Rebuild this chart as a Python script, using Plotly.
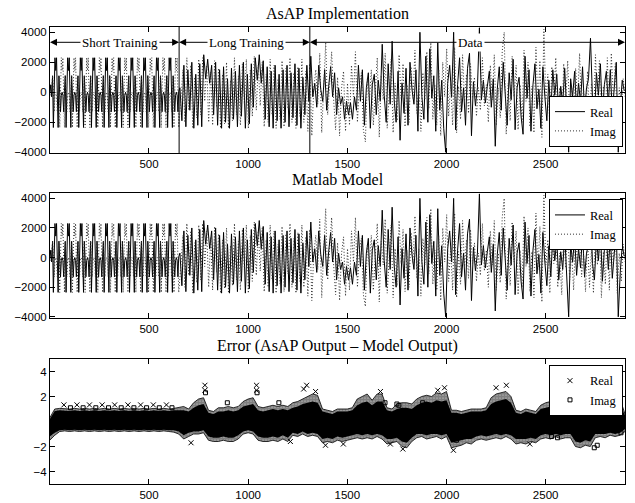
import plotly.graph_objects as go

# ---------------- data ----------------
lead_t = [1, 5, 9]
lead_real = [0, 500, -300]
lead_imag = [0, -200, 300]

# short training section (10 repeated symbols, one value every 4 samples)
short_real = [
    1100, -2350, -200, 2300, 1450, 2300, -200, -2350, 1100, 50, -1300, -200, 0, -200, -1300, 50,
    1100, -2350, -200, 2300, 1450, 2300, -200, -2350, 1100, 50, -1300, -200, 0, -200, -1300, 50,
    1100, -2350, -200, 2300, 1450, 2300, -200, -2350, 1100, 50, -1300, -200, 0, -200, -1300, 50,
    1100, -2350, -200, 2300, 1450, 2300, -200, -2350, 1100, 50, -1300, -200, 0, -200, -1300, 50,
    1100, -2350, -200, 2300, 1450, 2300, -200, -2350, 1100, 50, -1300, -200, 0, -200, -1300, 50,
    1100, -2350, -200, 2300, 1450, 2300, -200, -2350, 1100, 50, -1300, -200, 0, -200, -1300, 50,
    1100, -2350, -200, 2300, 1450, 2300, -200, -2350, 1100, 50, -1300, -200, 0, -200, -1300, 50,
    1100, -2350, -200, 2300, 1450, 2300, -200, -2350, 1100, 50, -1300, -200, 0, -200, -1300, 50,
    1100, -2350, -200, 2300, 1450, 2300, -200, -2350, 1100, 50, -1300, -200, 0, -200, -1300, 50,
    1100, -2350, -200, 2300, 1450, 2300, -200, -2350, 1100, 50, -1300, -200, 0, -200, -1300, 50,
]
short_imag = [
    1100, 50, -1300, -200, 0, -200, -1300, 50, 1100, -2350, -200, 2300, 1450, 2300, -200, -2350,
    1100, 50, -1300, -200, 0, -200, -1300, 50, 1100, -2350, -200, 2300, 1450, 2300, -200, -2350,
    1100, 50, -1300, -200, 0, -200, -1300, 50, 1100, -2350, -200, 2300, 1450, 2300, -200, -2350,
    1100, 50, -1300, -200, 0, -200, -1300, 50, 1100, -2350, -200, 2300, 1450, 2300, -200, -2350,
    1100, 50, -1300, -200, 0, -200, -1300, 50, 1100, -2350, -200, 2300, 1450, 2300, -200, -2350,
    1100, 50, -1300, -200, 0, -200, -1300, 50, 1100, -2350, -200, 2300, 1450, 2300, -200, -2350,
    1100, 50, -1300, -200, 0, -200, -1300, 50, 1100, -2350, -200, 2300, 1450, 2300, -200, -2350,
    1100, 50, -1300, -200, 0, -200, -1300, 50, 1100, -2350, -200, 2300, 1450, 2300, -200, -2350,
    1100, 50, -1300, -200, 0, -200, -1300, 50, 1100, -2350, -200, 2300, 1450, 2300, -200, -2350,
    1100, 50, -1300, -200, 0, -200, -1300, 50, 1100, -2350, -200, 2300, 1450, 2300, -200, -2350,
]

# long training section (one value every 10 samples)
real_long = [
    300, -1900, 1800, -2300, 1500, -1200, 2000, -2400, 1200, -2200,
    1900, -2300, 2500, 900, 2200, 600, 1800, -1500, 2000, -2200,
    1500, -2400, 1700, -2000, 900, -2400, 1600, -1800, 1400, -2300,
    1800, -1600, 2000, -2400, 1200, -2100, 1900, -1000, 2300, 800,
    2500, 600, 2100, -1800, 1700, -2300, 1400, -2400, 1800, -1900,
    1200, -2400, 1500, -2000, 1800, -2300, 1300, -1700, 1900, -2200,
    1600, -2400, 1000, -1500, 1800, -600,
]
imag_long = [
    -500, 1500, -2000, 2300, -1200, 1800, -2400, 1000, -1700, 2200,
    -1500, 2300, -600, 1800, -2000, 1400, -2200, 2100, -1000, 1600,
    -2400, 1200, -2100, 2000, -2400, 800, -1900, 2300, -1500, 1100,
    -2200, 1900, -800, 2200, -2400, 1500, -1600, 2400, -1200, 1800,
    -900, 2000, -2300, 1200, -2000, 2200, -1500, 1800, -2400, 900,
    -1800, 2100, -2300, 1600, -1100, 2300, -2000, 1300, -2400, 1700,
    -1600, 2200, -2000, 1400, -2600, 1900,
]
# data section (one value every 10 samples)
real_data = [
    2400, -300, 600, -1000, 1800, 200, -600, 1500, -1200, 400,
    1700, -300, 1300, -1500, 300, -800, -300, -1800, -600, -1500,
    -700, -1800, -300, -1200, 1800, -600, 1500, -2200, 300, 1300,
    -2400, 500, 1200, -1500, 800, -600, 3200, -200, -2000, 1900,
    -800, 3400, -500, -2000, 1400, -3200, 600, -1400, 1600, -2200,
    2000, 200, -800, 1500, -2600, 4000, -300, -1800, 2400, -2000,
    2900, -400, 1100, -2600, 3300, -1200, 800, -2400, -4000, 600,
    1800, -300, 4000, -2500, 500, 2300, -1300, 300, -2200, 1600,
    2600, -2900, 700, -900, 300, 4300, -500, 800, -700, 400,
    1400, -1000, 900, -3600, 200, 1700, -1200, 2000, -400, -2200,
    1300, -500, 2200, -2500, 300, 1000, -1600, -2800, 2400, -400,
    1500, -2600, 500, 1900, -1100, 200, -2400, 1700, -300, -1900,
    800, -1300, 1500, -200, 1200, -1500, 400, -800, 1600, -1200,
    -4000, 900, -300, 1400, -1200, 600, -700, 1700, -1300, 300,
    900, 3600, -400, -1500, 1300, -200, 1900, -1600, 500, 1400,
    -800, 1500, -1400, 300, 2000, -4000, -1000, 800, 100,
]
imag_data = [
    -2900, 300, 1500, -800, 2600, -2700, 400, 3300, -1500, 600,
    2700, -500, -2500, 1000, -2900, 300, 1400, -2600, 600, -2200,
    1800, -300, 2700, -2000, 500, 1300, -2500, -3300, 900, -600,
    1500, -2200, 400, 2300, -3000, 1100, -500, 2600, -2400, 300,
    2200, -2700, 600, -1900, 2500, -400, 1900, -2300, 500, -2000,
    1700, -400, 2800, -1400, 600, -2600, 1300, -500, 2700, -1100,
    3300, -1800, 500, -2200, 1500, -2900, 2000, -300, 2900, -1600,
    600, -2200, 3000, -2700, 400, -1800, 2500, -600, 1200, -1400,
    1900, -400, 1000, -1600, 300, -1200, 2300, -900, 500, -2000,
    1800, -500, 2500, -2200, 300, -1700, 2700, 4000, -2800, 600,
    -1900, 2400, -300, 1800, -2500, 500, -2000, 2800, -600, 2000,
    -2300, 400, -2700, 3000, -800, 2100, -3000, 4200, -500, 1200,
    -2400, 1700, -400, 2300, -2000, 300, -2500, 1900, -700, 2100,
    -1500, 400, -2200, 1600, -600, 2600, -1300, 300, -2300, 1400,
    -2000, 600, -2400, 2500, -500, 2100, -2700, 400, -1800, 2300,
    -2200, 2600, -500, 1900, -2400, 300, -1600, 900, -300,
]

# error panel: outer envelope of the error cloud (every 25 samples)
err_x = list(range(0, 2901, 25))
err_hi = [
    0.3, 1.0, 1.05, 1.0,   1.0, 1.05, 1.0, 1.05,   1.0, 1.05, 1.0, 1.05,
    1.0, 1.05, 1.0, 1.05,  1.0, 1.05, 1.0, 1.05,   1.0, 1.05, 1.0, 1.05,
    1.0, 1.05, 1.1, 1.2,   1.0, 1.5, 1.8, 1.9,     0.9, 0.8, 1.1, 1.1,
    1.2, 1.1, 1.2, 1.6,    1.8, 1.9, 1.2, 1.1,     1.2, 1.3, 1.2, 1.3,
    1.2, 1.5, 1.6, 1.8,    2.0, 2.2, 2.1, 1.0,     0.9, 0.8, 1.0, 1.0,
    1.0, 1.1, 1.8, 2.0,    2.2, 1.7, 2.2, 2.2,     1.1, 1.0, 1.4, 1.5,
    1.5, 1.4, 1.8, 2.0,    2.1, 2.0, 2.3, 2.2,     2.4, 0.9, 0.9, 0.8,
    0.9, 1.0, 1.0, 1.0,    1.1, 1.9, 2.2, 2.3,     2.4, 2.0, 0.9, 0.8,
    1.0, 0.9, 0.8, 1.3,    1.5, 1.6, 1.8, 1.8,     1.7, 1.6, 0.6, 0.6,
    0.7, 0.6, 1.4, 1.6,    1.5, 1.8, 2.0, 1.8,     0.6,
]
err_lo = [
    -1.5, -1.1, -0.8, -0.75,   -0.8, -0.75, -0.8, -0.75,   -0.8, -0.75, -0.8, -0.75,
    -0.8, -0.75, -0.8, -0.75,  -0.8, -0.75, -0.8, -0.75,   -0.8, -0.75, -0.8, -0.75,
    -0.8, -0.85, -1.0, -1.4,   -1.2, -1.0, -1.0, -0.9,     -1.5, -1.6, -1.6, -1.5,
    -1.6, -1.6, -1.4, -1.0,    -0.9, -1.0, -1.5, -1.6,     -1.6, -1.5, -1.6, -1.4,
    -1.6, -1.1, -1.2, -1.0,    -1.2, -1.1, -1.2, -1.7,     -1.6, -1.7, -1.5, -1.6,
    -1.5, -1.4, -1.3, -1.4,    -1.3, -1.4, -1.2, -1.4,     -1.8, -1.7, -1.6, -2.0,
    -2.1, -1.6, -1.3, -1.2,    -1.4, -1.3, -1.2, -1.4,     -1.2, -2.1, -2.0, -1.9,
    -1.7, -1.8, -1.5, -1.4,    -1.5, -1.4, -1.3, -1.4,     -1.2, -1.4, -1.8, -1.7,
    -1.8, -1.6, -1.7, -1.4,    -1.3, -1.4, -1.2, -1.4,     -1.3, -1.3, -2.0, -2.1,
    -1.9, -2.0, -1.3, -1.2,    -1.3, -1.1, -1.2, -1.1,     -0.8,
]
# densest (solid black) core of the error cloud
core_hi = [
    0.2, 0.85, 0.9, 0.85,   0.85, 0.9, 0.85, 0.9,   0.85, 0.9, 0.85, 0.9,
    0.85, 0.9, 0.85, 0.9,   0.85, 0.9, 0.85, 0.9,   0.85, 0.9, 0.85, 0.9,
    0.85, 0.9, 0.9, 0.9,    0.8, 1.1, 1.3, 1.4,     0.7, 0.6, 0.8, 0.8,
    0.9, 0.8, 0.9, 1.2,     1.3, 1.4, 0.9, 0.8,     0.9, 1.0, 0.9, 1.0,
    0.9, 1.1, 1.2, 1.4,     1.5, 1.6, 1.5, 0.8,     0.7, 0.6, 0.8, 0.8,
    0.8, 0.9, 1.3, 1.5,     1.6, 1.3, 1.6, 1.6,     0.9, 0.8, 1.0, 1.1,
    1.1, 1.0, 1.3, 1.5,     1.6, 1.5, 1.7, 1.6,     1.7, 0.7, 0.7, 0.6,
    0.7, 0.8, 0.8, 0.8,     0.9, 1.4, 1.6, 1.7,     1.8, 1.5, 0.7, 0.6,
    0.8, 0.7, 0.6, 1.0,     1.1, 1.2, 1.3, 1.3,     1.2, 1.2, 0.5, 0.5,
    0.5, 0.5, 1.0, 1.2,     1.1, 1.3, 1.5, 1.3,     0.5,
]
core_lo = [
    -1.2, -0.9, -0.7, -0.65,   -0.7, -0.65, -0.7, -0.65,   -0.7, -0.65, -0.7, -0.65,
    -0.7, -0.65, -0.7, -0.65,  -0.7, -0.65, -0.7, -0.65,   -0.7, -0.65, -0.7, -0.65,
    -0.7, -0.7, -0.8, -1.1,    -0.9, -0.8, -0.8, -0.7,     -1.2, -1.3, -1.3, -1.2,
    -1.3, -1.3, -1.1, -0.8,    -0.7, -0.8, -1.2, -1.3,     -1.3, -1.2, -1.3, -1.1,
    -1.3, -0.9, -1.0, -0.8,    -1.0, -0.9, -1.0, -1.4,     -1.3, -1.4, -1.2, -1.3,
    -1.2, -1.1, -1.0, -1.1,    -1.0, -1.1, -1.0, -1.1,     -1.4, -1.4, -1.3, -1.6,
    -1.7, -1.3, -1.0, -1.0,    -1.1, -1.0, -1.0, -1.1,     -1.0, -1.7, -1.6, -1.5,
    -1.4, -1.4, -1.2, -1.1,    -1.2, -1.1, -1.0, -1.1,     -1.0, -1.1, -1.4, -1.4,
    -1.4, -1.3, -1.4, -1.1,    -1.0, -1.1, -1.0, -1.1,     -1.0, -1.0, -1.6, -1.7,
    -1.5, -1.6, -1.0, -1.0,    -1.0, -0.9, -1.0, -0.9,     -0.6,
]
# isolated error samples standing out of the cloud
err_real_x = [71, 137, 200, 264, 327, 394, 458, 522, 588, 712, 782, 782, 1042, 1042,
              1213, 1280, 1295, 1340, 1390, 1480, 1667, 1717, 1780, 1956, 1990, 2035,
              2250, 2302, 2420]
err_real_y = [1.33, 1.33, 1.33, 1.33, 1.33, 1.33, 1.33, 1.33, 1.33, -1.7, 2.9, 2.5, 2.9, 2.5,
              -1.6, 2.6, 2.9, 2.4, -1.9, -1.8, 2.4, -1.8, -2.2, 2.5, 2.7, -2.3,
              2.7, 2.9, -1.8]
err_imag_x = [104, 168, 232, 296, 360, 424, 488, 552, 616, 785, 1045, 895, 1155,
              1690, 1750, 1760, 1880, 2050, 2530, 2560, 2745, 2760, 2880]
err_imag_y = [1.1, 1.1, 1.1, 1.1, 1.1, 1.1, 1.1, 1.1, 1.1, 2.3, 2.3, 1.5, 1.5,
              1.5, 1.4, 1.3, 1.5, -1.5, -1.2, -1.3, -2.1, -1.9, -0.9]

# section labels of the frame
sections = ["Short Training", "Long Training", "Data"]
section_edges = [1, 652, 1311, 2900]
label_x = [354, 993, 2121]

# ---------------- figure ----------------
real_rest = real_long + real_data
imag_rest = imag_long + imag_data
t_short = list(range(14, 14 + 4 * len(short_real), 4))
t_rest_r = list(range(656, 656 + 10 * len(real_rest), 10))
t_rest_i = list(range(661, 661 + 10 * len(imag_rest), 10))
t_real = lead_t + t_short + t_rest_r
t_imag = lead_t + t_short + t_rest_i
v_real = lead_real + short_real + real_rest
v_imag = lead_imag + short_imag + imag_rest

SERIF = "Liberation Serif, Times New Roman, serif"
SANS = "Liberation Sans, Arial, Helvetica, sans-serif"

fig = go.Figure()
for xa, ya, lg in [("x", "y", "legend"), ("x2", "y2", "legend2")]:
    fig.add_trace(go.Scatter(x=t_real, y=v_real, mode="lines", name="Real",
                             line=dict(color="black", width=1),
                             xaxis=xa, yaxis=ya, legend=lg))
    fig.add_trace(go.Scatter(x=t_imag, y=v_imag, mode="lines", name="Imag",
                             line=dict(color="#303030", width=1, dash="1px,2px"),
                             xaxis=xa, yaxis=ya, legend=lg))

# error panel: speckled outer cloud + solid core
fig.add_trace(go.Scatter(x=err_x, y=err_lo, mode="lines", line=dict(color="black", width=0.8),
                         showlegend=False, xaxis="x3", yaxis="y3", hoverinfo="skip"))
fig.add_trace(go.Scatter(x=err_x, y=err_hi, mode="lines", line=dict(color="black", width=0.8),
                         fill="tonexty", fillcolor="white",
                         fillpattern=dict(shape=".", fgcolor="black", bgcolor="white",
                                          size=3, solidity=0.85),
                         showlegend=False, xaxis="x3", yaxis="y3", hoverinfo="skip"))
fig.add_trace(go.Scatter(x=err_x, y=core_lo, mode="lines", line=dict(color="black", width=0),
                         showlegend=False, xaxis="x3", yaxis="y3", hoverinfo="skip"))
fig.add_trace(go.Scatter(x=err_x, y=core_hi, mode="lines", line=dict(color="black", width=0),
                         fill="tonexty", fillcolor="black",
                         showlegend=False, xaxis="x3", yaxis="y3", hoverinfo="skip"))
fig.add_trace(go.Scatter(x=err_real_x, y=err_real_y, mode="markers", name="Real",
                         marker=dict(symbol="x-thin-open", size=5, color="black",
                                     line=dict(width=1, color="black")),
                         xaxis="x3", yaxis="y3", legend="legend3"))
fig.add_trace(go.Scatter(x=err_imag_x, y=err_imag_y, mode="markers", name="Imag",
                         marker=dict(symbol="square-open", size=4, color="black",
                                     line=dict(width=1, color="black")),
                         xaxis="x3", yaxis="y3", legend="legend3"))

axis_common = dict(showline=True, linecolor="black", linewidth=1, mirror="ticks",
                   ticks="inside", ticklen=5, tickcolor="black", showgrid=False,
                   zeroline=False, automargin=False,
                   tickfont=dict(family=SANS, size=11.5, color="black"))

d1 = [0.7243, 1.0]
d2 = [0.3632, 0.6374]
d3 = [0.0, 0.2735]

xt = [500, 1000, 1500, 2000, 2500]
fig.update_layout(
    width=635, height=503,
    margin=dict(l=50, r=10, t=27, b=19),
    paper_bgcolor="white", plot_bgcolor="white",
    hovermode=False,
    xaxis=dict(domain=[0, 1], anchor="y", range=[1, 2900], tickvals=xt, **axis_common),
    yaxis=dict(domain=d1, anchor="x", range=[-4050, 4350],
               tickvals=[-4000, -2000, 0, 2000, 4000], **axis_common),
    xaxis2=dict(domain=[0, 1], anchor="y2", range=[1, 2900], tickvals=xt, **axis_common),
    yaxis2=dict(domain=d2, anchor="x2", range=[-4080, 4380],
                tickvals=[-4000, -2000, 0, 2000, 4000], **axis_common),
    xaxis3=dict(domain=[0, 1], anchor="y3", range=[1, 2900], tickvals=xt, **axis_common),
    yaxis3=dict(domain=d3, anchor="x3", range=[-5, 5],
                tickvals=[-4, -2, 2, 4], **axis_common),
    showlegend=True,
)

leg_common = dict(bgcolor="white", bordercolor="black", borderwidth=1,
                  font=dict(family=SERIF, size=12.5, color="black"),
                  xanchor="right", x=0.9965, tracegroupgap=0, itemwidth=30,
                  traceorder="normal")
fig.update_layout(
    legend=dict(y=0.7374, yanchor="bottom", **leg_common),
    legend2=dict(y=0.623, yanchor="top", **leg_common),
    legend3=dict(y=0.2604, yanchor="top", **leg_common),
)

# panel titles
titles = ["AsAP Implementation", "Matlab Model", "Error (AsAP Output \u2013 Model Output)"]
anns = []
for ttl, dom in zip(titles, [d1, d2, d3]):
    anns.append(dict(text=ttl, xref="paper", yref="paper", x=0.5, y=dom[1],
                     xanchor="center", yanchor="middle", yshift=13, showarrow=False,
                     font=dict(family=SERIF, size=16, color="black")))

# section arrows and labels in the first panel
arrow_y = 3330
for name, a, b, lx in zip(sections, section_edges[:-1], section_edges[1:], label_x):
    for end in (a, b):
        anns.append(dict(x=end, y=arrow_y, ax=lx, ay=arrow_y, xref="x", yref="y",
                         axref="x", ayref="y", text="", showarrow=True,
                         arrowhead=2, arrowsize=1.4, arrowwidth=1, arrowcolor="black",
                         standoff=0, startstandoff=0))
    anns.append(dict(x=lx, y=arrow_y, xref="x", yref="y", text=name, showarrow=False,
                     bgcolor="white", borderpad=1,
                     font=dict(family=SERIF, size=13, color="black")))
fig.update_layout(annotations=anns)

shapes = []
for edge in section_edges[1:-1]:
    shapes.append(dict(type="line", xref="x", yref="y domain", x0=edge, x1=edge, y0=0, y1=1,
                       line=dict(color="black", width=1)))
fig.update_layout(shapes=shapes)

fig.write_html("out.html", config={"displayModeBar": False},
               post_script="document.body.style.margin='0px';")
